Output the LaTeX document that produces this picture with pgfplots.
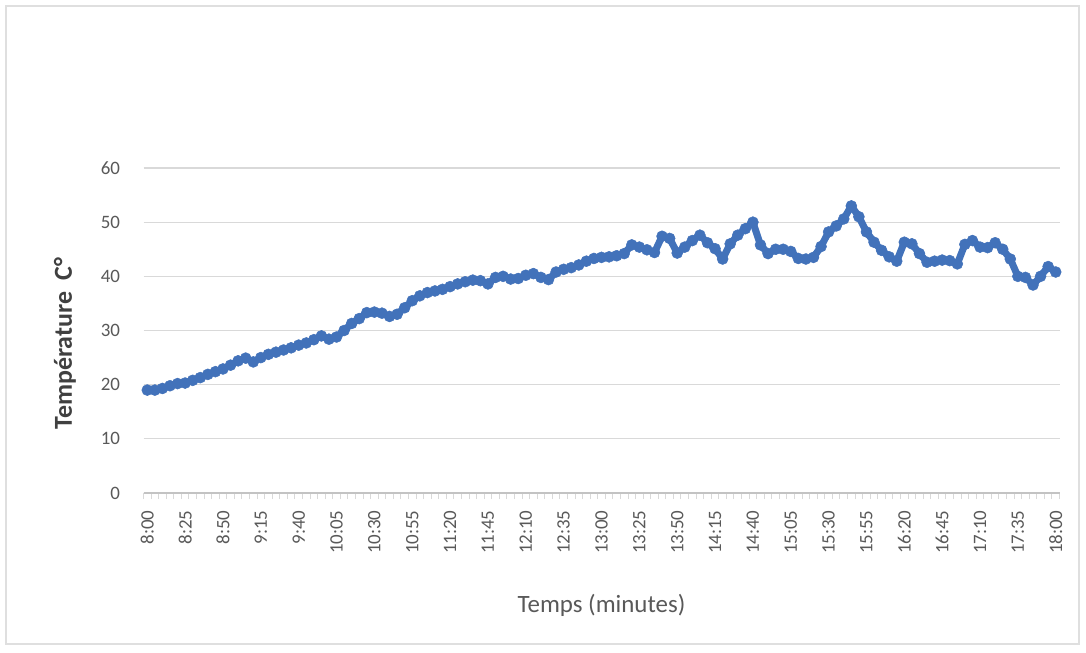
\documentclass[border=0pt]{standalone}
\usepackage{pgfplots}
\pgfplotsset{compat=1.18}
\usepackage{pgfplotstable}
\usepackage{fontspec}
\setmainfont{Carlito}
\definecolor{ser}{RGB}{66,114,186}
\definecolor{gridc}{RGB}{217,217,217}
\definecolor{txt}{RGB}{89,89,89}
\definecolor{ylab}{RGB}{64,64,64}
\pgfplotstableread{
i t
0 19.0
1 19.0
2 19.3
3 19.8
4 20.2
5 20.3
6 20.8
7 21.3
8 21.9
9 22.4
10 22.9
11 23.6
12 24.4
13 24.9
14 24.2
15 25.0
16 25.6
17 26.0
18 26.4
19 26.8
20 27.3
21 27.7
22 28.3
23 29.0
24 28.4
25 28.8
26 30.0
27 31.3
28 32.2
29 33.3
30 33.4
31 33.2
32 32.6
33 33.0
34 34.2
35 35.5
36 36.4
37 37.0
38 37.3
39 37.6
40 38.1
41 38.6
42 39.0
43 39.3
44 39.2
45 38.6
46 39.8
47 40.0
48 39.5
49 39.6
50 40.2
51 40.5
52 39.8
53 39.4
54 40.8
55 41.3
56 41.6
57 42.1
58 42.8
59 43.3
60 43.5
61 43.6
62 43.8
63 44.2
64 45.8
65 45.4
66 44.9
67 44.4
68 47.4
69 47.0
70 44.3
71 45.4
72 46.6
73 47.6
74 46.2
75 45.1
76 43.2
77 46.0
78 47.6
79 48.8
80 50.0
81 45.8
82 44.2
83 45.0
84 45.0
85 44.6
86 43.3
87 43.2
88 43.5
89 45.5
90 48.2
91 49.3
92 50.6
93 53.0
94 51.0
95 48.2
96 46.3
97 44.8
98 43.6
99 42.8
100 46.3
101 46.0
102 44.2
103 42.6
104 42.8
105 43.0
106 42.9
107 42.3
108 45.9
109 46.6
110 45.4
111 45.3
112 46.2
113 45.0
114 43.2
115 40.0
116 39.8
117 38.4
118 40.0
119 41.8
120 40.8
}\temps
\begin{document}
\begin{tikzpicture}
\path[use as bounding box] (0bp,0bp) rectangle (1086bp,653bp);
\fill[white] (0bp,0bp) rectangle (1086bp,653bp);
\draw[gray!25, line width=1.5bp] (6bp,9bp) rectangle (1079bp,647bp);
\begin{axis}[
  at={(143.5bp,160bp)}, anchor=south west,
  scale only axis, width=916bp, height=325bp,
  xmin=-0.5, xmax=120.5, ymin=0, ymax=60,
  ytick={0,10,...,60},
  xtick={0,5,...,120},
  xticklabels={8:00,8:25,8:50,9:15,9:40,10:05,10:30,10:55,11:20,11:45,12:10,12:35,13:00,13:25,13:50,14:15,14:40,15:05,15:30,15:55,16:20,16:45,17:10,17:35,18:00},
  minor xtick={-0.5,0.5,...,120.5},
  major tick length=0pt,
  minor tick length=6bp,
  tick align=outside,
  minor tick style={gridc, line width=1bp},
  axis x line*=bottom, axis y line*=left,
  y axis line style={draw=none},
  x axis line style={draw=gridc!90!black, line width=1.3bp},
  ymajorgrids,
  major grid style={gridc, line width=1.3bp},
  /pgf/number format/assume math mode=true,
  yticklabel style={txt, font=\fontsize{19}{19}\selectfont, xshift=-20bp},
  xticklabel style={txt, font=\fontsize{19}{19}\selectfont, yshift=-14bp, rotate=90, anchor=east},
  xlabel={Temps (minutes)},
  ylabel={Température\ \ C°},
  xlabel style={txt, font=\fontsize{25}{25}\selectfont, at={(axis description cs:0.5,-0.345)}, anchor=center},
  ylabel style={ylab, font=\bfseries\fontsize{26}{26}\selectfont, at={(axis description cs:-0.0857,0.46)}, anchor=center},
  clip=false,
]
\addplot[ser, line width=7bp, line join=round, line cap=round, mark=*, mark size=5.5bp, mark options={fill=ser, draw=ser, line width=0.5bp}] table[x=i, y=t] {\temps};
\end{axis}
\end{tikzpicture}
\end{document}
